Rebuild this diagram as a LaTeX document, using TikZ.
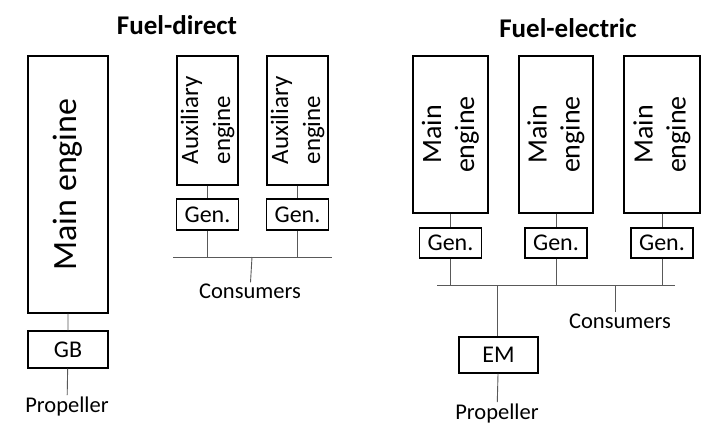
\documentclass[tikz,border=0pt]{standalone}
\usepackage{fontspec}
\setmainfont{Carlito}
\tikzstyle{enginebox}=[draw=black,line width=1.1pt,rotate=90,align=center,
                       inner sep=0pt]
\tikzstyle{smallbox}=[draw=black,line width=1.1pt,inner sep=0pt,
                      font=\fontsize{24}{26}\selectfont]
\tikzstyle{plaintext}=[inner sep=1pt,font=\fontsize{22.5}{24}\selectfont]
\tikzstyle{titletext}=[inner sep=0pt,font=\bfseries\fontsize{27}{30}\selectfont]
\tikzstyle{wire}=[draw=black!65,line width=0.9pt]
\begin{document}
\begin{tikzpicture}[x=1pt,y=-1pt]
    \useasboundingbox[fill=white] (0,0) rectangle (702,424);
    % fuel-direct
    \node (fd) at (177,25) [titletext]{Fuel-direct};
    \node (me) at (68,184.5) [enginebox,minimum width=257pt,minimum height=80pt,
        font=\fontsize{34}{36}\selectfont]{Main engine};
    \node (gb) at (68,349.5) [smallbox,minimum width=80pt,minimum height=37pt]{GB};
    \node (propa) at (67,406) [plaintext]{Propeller};
    \node (aux1) at (207.5,120.5) [enginebox,align=left,minimum width=129pt,
        minimum height=61pt,font=\fontsize{25}{32}\selectfont]{Auxiliary\\engine};
    \node (aux2) at (297.5,120.5) [enginebox,align=left,minimum width=129pt,
        minimum height=61pt,font=\fontsize{25}{32}\selectfont]{Auxiliary\\engine};
    \node (gena1) at (207.5,214.5) [smallbox,minimum width=62pt,minimum height=31pt]{Gen.};
    \node (gena2) at (297.5,214.5) [smallbox,minimum width=62pt,minimum height=31pt]{Gen.};
    \coordinate (busaL) at (173,257);
    \coordinate (busaR) at (332,257);
    \coordinate (busaC) at (252,257);
    \node (consa) at (250,291) [plaintext]{Consumers};
    \draw[wire] (me) -- (gb) -- (propa);
    \draw[wire] (aux1) -- (gena1) -- (gena1 |- busaL);
    \draw[wire] (aux2) -- (gena2) -- (gena2 |- busaL);
    \draw[wire] (busaL) -- (busaR);
    \draw[wire] (busaC) -- (consa);
    % fuel-electric
    \node (fe) at (568,28) [titletext]{Fuel-electric};
    \node (e1) at (450.5,134.5) [enginebox,minimum width=157pt,minimum height=75pt,
        font=\fontsize{28}{33}\selectfont]{Main\\engine};
    \node (e2) at (556,134.5) [enginebox,minimum width=157pt,minimum height=74pt,
        font=\fontsize{28}{33}\selectfont]{Main\\engine};
    \node (e3) at (662,134.5) [enginebox,minimum width=157pt,minimum height=76pt,
        font=\fontsize{28}{33}\selectfont]{Main\\engine};
    \node (g1) at (450.5,243) [smallbox,minimum width=62pt,minimum height=30pt]{Gen.};
    \node (g2) at (556,243) [smallbox,minimum width=62pt,minimum height=30pt]{Gen.};
    \node (g3) at (662,243) [smallbox,minimum width=62pt,minimum height=30pt]{Gen.};
    \coordinate (busbL) at (437,285);
    \coordinate (busbR) at (675,285);
    \coordinate (busbM) at (497,285);
    \coordinate (busbC) at (615,285);
    \node (em) at (498.5,355) [smallbox,minimum width=79pt,minimum height=36pt]{EM};
    \node (propb) at (497,413) [plaintext]{Propeller};
    \node (consb) at (620,321) [plaintext]{Consumers};
    \draw[wire] (e1) -- (g1) -- (g1 |- busbL);
    \draw[wire] (e2) -- (g2) -- (g2 |- busbL);
    \draw[wire] (e3) -- (g3) -- (g3 |- busbL);
    \draw[wire] (busbL) -- (busbR);
    \draw[wire] (busbM) -- (busbM |- em.north);
    \draw[wire] (em) -- (propb);
    \draw[wire] (busbC) -- (busbC |- consb.north);
  \end{tikzpicture}
\end{document}
